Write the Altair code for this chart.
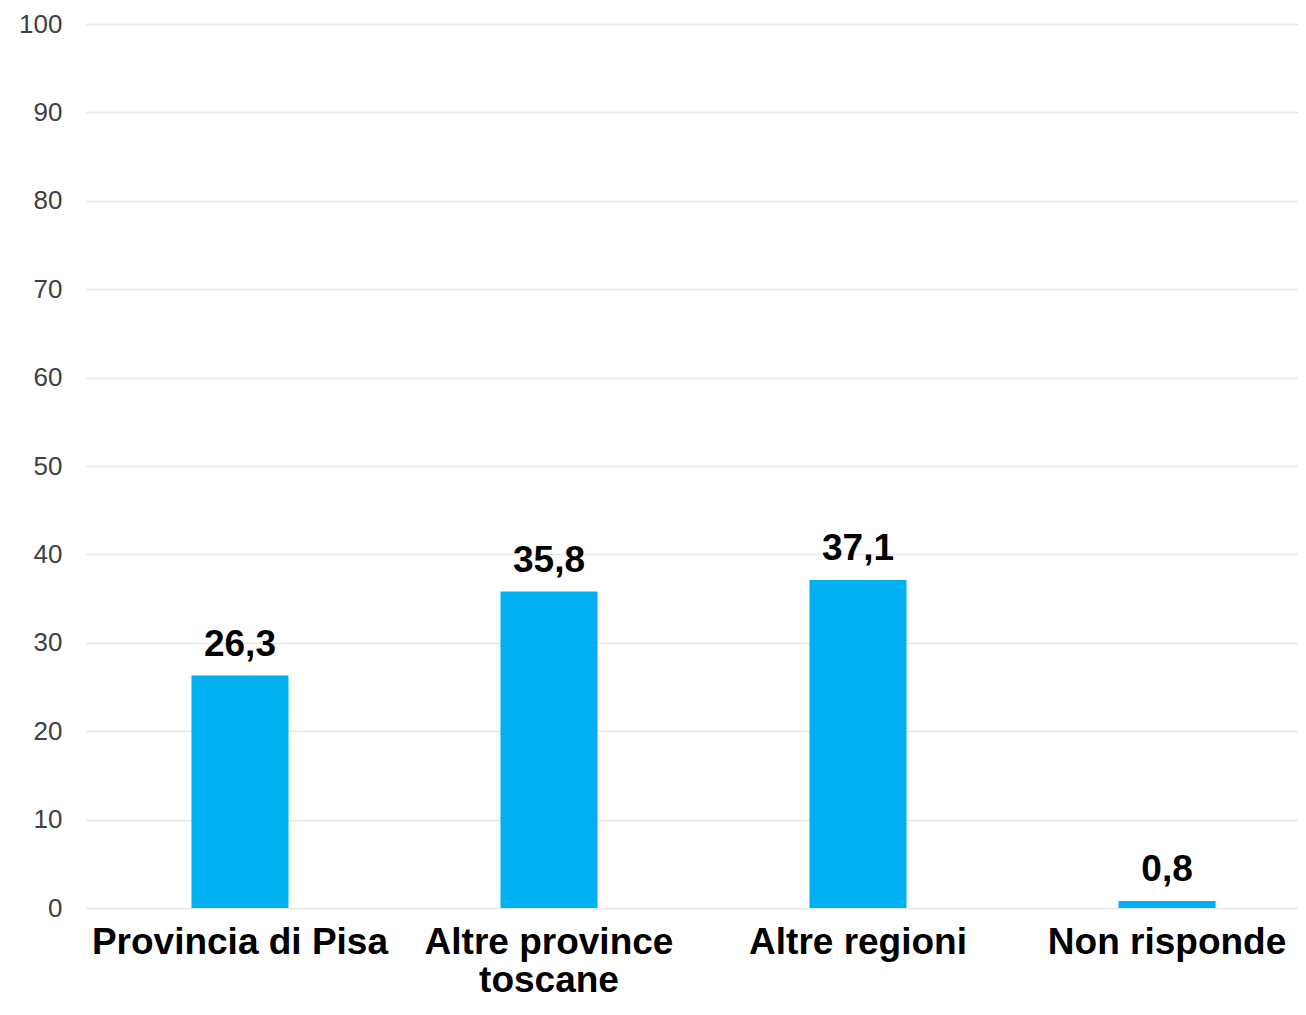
import altair as alt
import pandas as pd

categories = ["Provincia di Pisa", "Altre province toscane", "Altre regioni", "Non risponde"]
values = [26.3, 35.8, 37.1, 0.8]
y_ticks = [0, 10, 20, 30, 40, 50, 60, 70, 80, 90, 100]

df = pd.DataFrame({"cat": categories, "val": values})

FONT = "Liberation Sans"
SHIFT = 11.5

x = alt.X(
    "cat:N",
    sort=categories,
    title=None,
    scale=alt.Scale(paddingInner=0.686, paddingOuter=0.304),
    axis=alt.Axis(
        labelAngle=0,
        labelFont=FONT,
        labelFontSize=37,
        labelFontWeight="bold",
        labelColor="#000000",
        labelPadding=16,
        labelLineHeight=38,
        labelBaseline="top",
        labelLimit=400,
        labelOffset=SHIFT,
        labelExpr="datum.label == 'Altre province toscane' ? ['Altre province', 'toscane'] : datum.label",
        domain=False,
        ticks=False,
        grid=False,
    ),
)

bars = alt.Chart(df).mark_bar(color="#00B0F0", xOffset=SHIFT).encode(
    x=x,
    y=alt.Y(
        "val:Q",
        title=None,
        scale=alt.Scale(domain=[0, 100], nice=False),
        axis=alt.Axis(
            values=y_ticks,
            labelFont=FONT,
            labelFontSize=26,
            labelColor="#404040",
            labelPadding=24,
            domain=False,
            ticks=False,
            gridColor="#E6E6E6",
            gridWidth=1.5,
        ),
    ),
)

text = alt.Chart(df).transform_calculate(
    lab="replace(format(datum.val, '.1f'), '.', ',')"
).mark_text(
    font=FONT, fontSize=37, fontWeight="bold", color="#000000",
    baseline="alphabetic", dy=-20, xOffset=SHIFT
).encode(
    x=alt.X("cat:N", sort=categories),
    y="val:Q",
    text="lab:N",
)

chart = (bars + text).properties(
    width=1212,
    height=884,
    autosize=alt.AutoSizeParams(type="none"),
    padding={"left": 78, "top": 16, "right": 0, "bottom": 91},
).configure_view(stroke=None)

chart.save("out.html", embed_options={"renderer": "svg", "actions": False})
